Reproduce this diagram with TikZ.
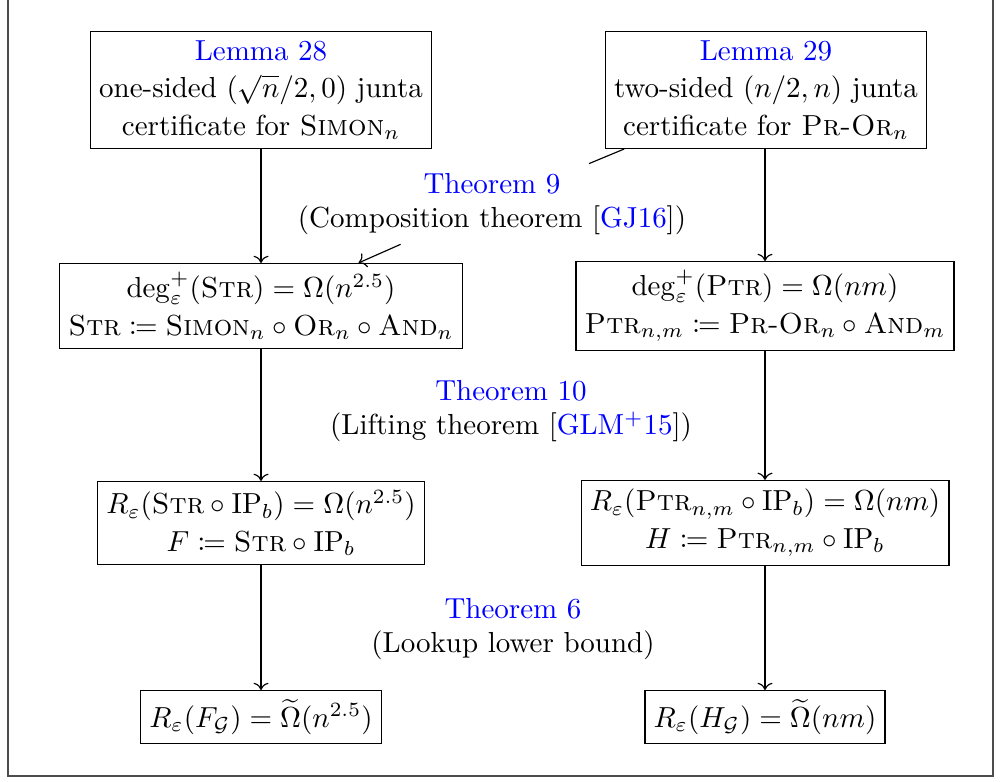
\documentclass[tikz,border=0pt]{standalone}
\usepackage{amsmath,amssymb,mathtools}
\usetikzlibrary{arrows.meta, positioning, calc}
\definecolor{reflink}{HTML}{0000FF}

\begin{document}
\begin{tikzpicture}[
    x=0.345pt, y=0.345pt,
    resbox/.style={
        draw, align=center, inner sep=3pt
    },
    thmlabel/.style={
        align=center, inner sep=3pt
    },
    arrstyle/.style={->},
]

% === Frame ===
\useasboundingbox (0,0) rectangle (1005,782);
\draw[gray!60!black] (8,800) -- (8,6) -- (993,6) -- (993,800);

% === Top row: lemmas ===
\node[resbox] (lemL) at (261,692) {\textcolor{reflink}{Lemma 28}\\[1pt]
    one-sided $(\sqrt{n}/2,0)$ junta\\[1pt]
    certificate for $\textsc{Simon}_n$};
\node[resbox] (lemR) at (766,692) {\textcolor{reflink}{Lemma 29}\\[1pt]
    two-sided $(n/2,n)$ junta\\[1pt]
    certificate for $\textsc{Pr-Or}_n$};

% === Second row: degree bounds ===
\node[resbox] (degL) at (261,476) {$\deg^+_\varepsilon(\textsc{Str}) = \Omega(n^{2.5})$\\[1pt]
    $\textsc{Str} \coloneqq \textsc{Simon}_n \circ \textsc{Or}_n \circ \textsc{And}_n$};
\node[resbox] (degR) at (765,476) {$\deg^+_\varepsilon(\textsc{Ptr}) = \Omega(nm)$\\[1pt]
    $\textsc{Ptr}_{n,m} \coloneqq \textsc{Pr-Or}_n \circ \textsc{And}_m$};

% === Third row: lifted ===
\node[resbox] (liftL) at (261,259) {$R_\varepsilon(\textsc{Str} \circ \mathrm{IP}_b) = \Omega(n^{2.5})$\\[1pt]
    $F \coloneqq \textsc{Str} \circ \mathrm{IP}_b$};
\node[resbox] (liftR) at (765,259) {$R_\varepsilon(\textsc{Ptr}_{n,m} \circ \mathrm{IP}_b) = \Omega(nm)$\\[1pt]
    $H \coloneqq \textsc{Ptr}_{n,m} \circ \mathrm{IP}_b$};

% === Bottom row: lookup ===
\node[resbox] (lookL) at (261,65) {$R_\varepsilon(F_{\mathcal{G}}) = \widetilde{\Omega}(n^{2.5})$};
\node[resbox] (lookR) at (765,65) {$R_\varepsilon(H_{\mathcal{G}}) = \widetilde{\Omega}(nm)$};

% === Theorem labels ===
\node[thmlabel] (thm9) at (492,578) {\textcolor{reflink}{Theorem 9}\\
    (Composition theorem [\textcolor{reflink}{GJ16}])};
\node[thmlabel] (thm10) at (511,371) {\textcolor{reflink}{Theorem 10}\\
    (Lifting theorem [\textcolor{reflink}{GLM$^+$15}])};
\node[thmlabel] (thm6) at (513,153) {\textcolor{reflink}{Theorem 6}\\
    (Lookup lower bound)};

% === Arrows ===
\draw[arrstyle] (lemL) -- (degL);
\draw[arrstyle] (lemR.south -| degR) -- (degR);
\draw[arrstyle] (degL) -- (liftL);
\draw[arrstyle] (degR) -- (liftR);
\draw[arrstyle] (liftL) -- (lookL);
\draw[arrstyle] (liftR) -- (lookR);
\draw (thm9) -- (lemR);
\draw[arrstyle] (thm9) -- (degL);

\end{tikzpicture}
\end{document}
